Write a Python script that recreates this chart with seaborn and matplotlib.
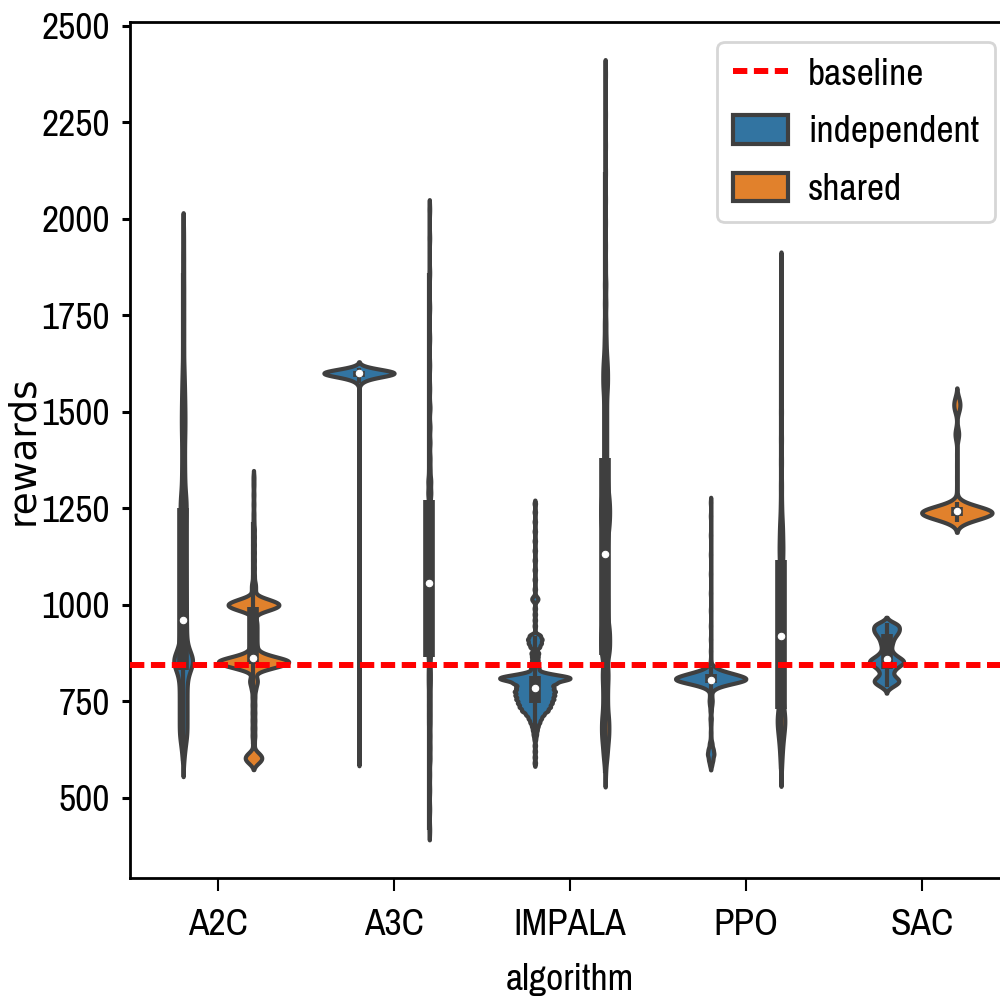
import numpy as np
import pandas as pd
import matplotlib
matplotlib.use("Agg")
import matplotlib.pyplot as plt
import seaborn as sns
from matplotlib import font_manager as fm

# ---------------------------------------------------------------- data
ALGORITHMS = ["A2C", "A3C", "IMPALA", "PPO", "SAC"]
TYPES = ["independent", "shared"]
BASELINE = 844
Y_TICKS = [500, 750, 1000, 1250, 1500, 1750, 2000, 2250, 2500]

# observed episode rewards (value) and how many episodes reached it (count)
A2C_IND_VALS = [595, 612, 628, 643, 657, 670, 690, 710, 730, 750, 770, 790, 810,
                830, 845, 856, 868, 882, 900, 920, 940, 960, 980, 1000, 1020, 1040,
                1060, 1080, 1100, 1120, 1140, 1160, 1180, 1200, 1220, 1235, 1250,
                1270, 1290, 1315, 1340, 1365, 1390, 1415, 1440, 1465, 1490, 1515,
                1540, 1565, 1590, 1620, 1660, 1700, 1740, 1780, 1820, 1860, 1900,
                1940, 1975]
A2C_IND_CNTS = [4, 6, 9, 12, 14, 22, 24, 24, 24, 24, 24, 24, 26,
                35, 42, 48, 38, 25, 22, 22, 21, 21, 20, 20, 19, 18,
                18, 17, 17, 16, 16, 16, 16, 16, 16, 10, 20,
                18, 16, 13, 12, 11, 11, 11, 13, 14, 14, 13,
                12, 10, 9, 8, 7, 7, 7, 7, 7, 6, 6,
                5, 4]

A2C_SHR_VALS = [590, 600, 610, 618, 640, 660, 680, 700, 720, 740, 760, 780, 795,
                805, 815, 835, 845, 853, 861, 871, 885, 895, 905, 915, 925, 935,
                945, 955, 965, 985, 993, 1000, 1007, 1015, 1035, 1045, 1055, 1075,
                1095, 1115, 1135, 1155, 1175, 1195, 1215, 1235, 1260, 1285, 1310,
                1330]
A2C_SHR_CNTS = [6, 12, 9, 3, 2, 3, 3, 3, 3, 3, 3, 4, 5,
                5, 3, 22, 34, 42, 28, 14, 5, 4, 4, 4, 4, 4,
                4, 4, 3, 15, 22, 26, 20, 14, 3, 2, 3, 2,
                2, 2, 2, 2, 2, 2, 1, 1, 1, 1, 1,
                1]

A3C_IND_VALS = [598, 633, 671, 709, 752, 788, 826, 869, 905, 947, 986, 1024, 1063,
                1102, 1144, 1181, 1223, 1262, 1305, 1343, 1384, 1426, 1463, 1507,
                1548, 1575, 1580, 1585, 1590, 1595, 1600, 1605, 1610, 1614]
A3C_IND_CNTS = [1, 1, 1, 1, 1, 1, 1, 1, 1, 1, 1, 1, 1,
                1, 1, 1, 1, 1, 1, 1, 1, 1, 1, 1,
                1, 3, 5, 8, 16, 40, 66, 42, 15, 5]

A3C_SHR_VALS = [416, 470, 520, 560, 600, 630, 660, 690, 715, 740, 765, 790, 810,
                830, 848, 870, 895, 920, 945, 970, 995, 1020, 1045, 1065, 1090,
                1115, 1140, 1165, 1190, 1215, 1240, 1265, 1290, 1320, 1350, 1380,
                1420, 1460, 1510, 1560, 1620, 1690, 1770, 1860, 1950, 2024]
A3C_SHR_CNTS = [1, 1, 1, 1, 2, 2, 2, 2, 2, 2, 2, 2, 2,
                2, 1, 3, 3, 3, 3, 3, 3, 3, 4, 3, 3,
                3, 3, 3, 3, 3, 2, 2, 4, 4, 2, 2,
                2, 2, 2, 1, 1, 1, 1, 1, 1, 1]

IMP_IND_VALS = [590, 605, 620, 635, 650, 658, 665, 675, 685, 695, 705, 715, 725,
                735, 745, 755, 765, 775, 785, 795, 803, 809, 815, 821, 826, 835,
                845, 855, 865, 875, 890, 900, 910, 920, 945, 960, 975, 990, 1010,
                1016, 1022, 1040, 1065, 1090, 1115, 1140, 1165, 1190, 1215, 1240,
                1262]
IMP_IND_CNTS = [1, 1, 1, 1, 1, 1, 2, 3, 4, 6, 8, 11, 16,
                19, 21, 23, 24, 25, 23, 23, 22, 30, 24, 10, 4, 5,
                4, 4, 4, 5, 6, 8, 9, 7, 1, 1, 1, 1, 2,
                3, 1, 1, 1, 1, 1, 1, 1, 1, 1, 1,
                1]

IMP_SHR_VALS = [565, 600, 625, 650, 670, 690, 710, 735, 760, 785, 810, 835, 870,
                890, 910, 930, 950, 975, 1000, 1025, 1050, 1075, 1100, 1130, 1155,
                1180, 1200, 1220, 1240, 1260, 1280, 1300, 1325, 1350, 1380, 1410,
                1440, 1470, 1500, 1530, 1560, 1585, 1610, 1635, 1660, 1690, 1730,
                1780, 1830, 1880, 1930, 1990, 2050, 2120, 2190, 2270, 2375]
IMP_SHR_CNTS = [1, 3, 4, 5, 5, 5, 5, 4, 4, 4, 5, 5, 6,
                6, 6, 6, 5, 4, 4, 4, 3, 3, 3, 3, 4,
                4, 5, 6, 6, 6, 5, 4, 4, 3, 3, 3,
                3, 3, 3, 3, 4, 4, 4, 3, 2, 2, 2,
                2, 2, 1, 1, 1, 1, 1, 1, 1, 1]

PPO_IND_VALS = [585, 598, 612, 625, 640, 655, 670, 690, 705, 725, 740, 752, 765,
                780, 790, 798, 805, 812, 820, 828, 838, 855, 880, 910, 945, 985,
                1030, 1080, 1130, 1180, 1230, 1265]
PPO_IND_CNTS = [3, 6, 9, 7, 4, 1, 1, 1, 2, 2, 3, 4, 3,
                6, 20, 40, 55, 55, 40, 20, 8, 1, 1, 1, 1, 1,
                1, 1, 1, 1, 1, 1]

PPO_SHR_VALS = [573, 600, 625, 650, 670, 690, 705, 718, 735, 760, 785, 810, 835,
                860, 885, 905, 935, 960, 985, 1010, 1035, 1060, 1085, 1110, 1135,
                1160, 1190, 1220, 1260, 1310, 1370, 1430, 1500, 1580, 1660, 1740,
                1820, 1870]
PPO_SHR_CNTS = [1, 2, 3, 4, 5, 6, 5, 4, 4, 4, 4, 3, 3,
                4, 4, 4, 4, 4, 4, 4, 4, 4, 3, 3, 4,
                4, 4, 3, 2, 2, 2, 2, 2, 1, 1, 1,
                1, 1]

SAC_IND_VALS = [786, 792, 799, 806, 815, 826, 834, 843, 851, 859, 868, 878, 890,
                902, 914, 925, 935, 945, 952]
SAC_IND_CNTS = [2, 4, 7, 7, 5, 4, 5, 8, 11, 9, 6, 4, 4,
                5, 6, 8, 9, 8, 5]

SAC_SHR_VALS = [1213, 1219, 1225, 1231, 1237, 1242, 1247, 1253, 1259, 1266, 1300,
                1330, 1360, 1390, 1430, 1442, 1454, 1500, 1512, 1524, 1536]
SAC_SHR_CNTS = [4, 10, 20, 28, 32, 30, 24, 15, 7, 2, 1,
                1, 1, 1, 2, 4, 2, 3, 5, 5, 3]

GROUPS = {
    ("A2C", "independent"): (A2C_IND_VALS, A2C_IND_CNTS),
    ("A2C", "shared"): (A2C_SHR_VALS, A2C_SHR_CNTS),
    ("A3C", "independent"): (A3C_IND_VALS, A3C_IND_CNTS),
    ("A3C", "shared"): (A3C_SHR_VALS, A3C_SHR_CNTS),
    ("IMPALA", "independent"): (IMP_IND_VALS, IMP_IND_CNTS),
    ("IMPALA", "shared"): (IMP_SHR_VALS, IMP_SHR_CNTS),
    ("PPO", "independent"): (PPO_IND_VALS, PPO_IND_CNTS),
    ("PPO", "shared"): (PPO_SHR_VALS, PPO_SHR_CNTS),
    ("SAC", "independent"): (SAC_IND_VALS, SAC_IND_CNTS),
    ("SAC", "shared"): (SAC_SHR_VALS, SAC_SHR_CNTS),
}

rows = []
for (alg, typ), (vals, cnts) in GROUPS.items():
    for v, c in zip(vals, cnts):
        rows.extend([(alg, typ, float(v))] * c)
df = pd.DataFrame(rows, columns=["algorithm", "type", "rewards"])

# ---------------------------------------------------------------- style
_names = {f.name for f in fm.fontManager.ttflist}
if "Archivo Narrow" in _names:
    NARROW, TXT = "Archivo Narrow", 27
elif "Liberation Sans Narrow" in _names:
    NARROW, TXT = "Liberation Sans Narrow", 27
else:
    NARROW, TXT = "DejaVu Sans", 21
BW = {"A2C": 0.065, "A3C": 0.04, "IMPALA": 0.05, "PPO": 0.08, "SAC": 0.15}
PALETTE = {"independent": "#1f77b4", "shared": "#ff7f0e"}
EDGE = "#3f3f3f"
INNER = dict(box_width=8.4, whis_width=3.0, marker="o", markersize=4.6,
             markeredgewidth=0.8, solid_capstyle="butt")

fig = plt.figure(figsize=(10, 9.97), dpi=100)
ax = fig.add_axes([0.1304, 0.1191, 0.8792, 0.8589])

for i, alg in enumerate(ALGORITHMS):
    sub = df[df["algorithm"] == alg]
    sns.violinplot(data=sub, x="algorithm", y="rewards", hue="type",
                   order=ALGORITHMS, hue_order=TYPES, palette=PALETTE,
                   saturation=0.75, width=0.8, density_norm="area",
                   common_norm=True, bw_method=BW[alg], cut=2, gridsize=600,
                   linewidth=3, linecolor=EDGE, inner="box", inner_kws=INNER,
                   legend=(i == len(ALGORITHMS) - 1), ax=ax)

base = ax.axhline(BASELINE, color="red", linestyle=(0, (2.4, 1.1)), lw=4.3,
                  zorder=5)

old = ax.get_legend()
hue_handles = list(old.legend_handles)
hue_labels = [t.get_text() for t in old.get_texts()]
old.remove()
leg = ax.legend([base] + hue_handles, ["baseline"] + hue_labels,
                loc="upper right", bbox_to_anchor=(0.995, 1 - 41.7 / 997),
                bbox_transform=fig.transFigure, borderaxespad=0,
                prop=dict(family=NARROW, size=TXT), handlelength=1.45,
                handleheight=0.78, handletextpad=0.55, labelspacing=0.66,
                borderpad=0.42, framealpha=0.8, edgecolor="0.8")
leg.get_frame().set_linewidth(2)

ax.set_yticks(Y_TICKS)
ax.set_ylim(291, 2510)
ax.tick_params(axis="x", length=9, width=1.5, pad=12.4, labelsize=TXT,
               labelfontfamily=NARROW)
ax.tick_params(axis="y", length=6, width=2.2, pad=8.9, labelsize=TXT,
               labelfontfamily=NARROW)
for sp in ax.spines.values():
    sp.set_linewidth(2)

ax.set_xlabel("algorithm", fontsize=TXT, family=NARROW)
ax.set_ylabel("rewards", fontsize=27, family="DejaVu Sans")
ax.xaxis.set_label_coords(0.5, -0.0989)
ax.yaxis.set_label_coords(-0.1021, 0.5)

fig.savefig("out.png", dpi=100)
